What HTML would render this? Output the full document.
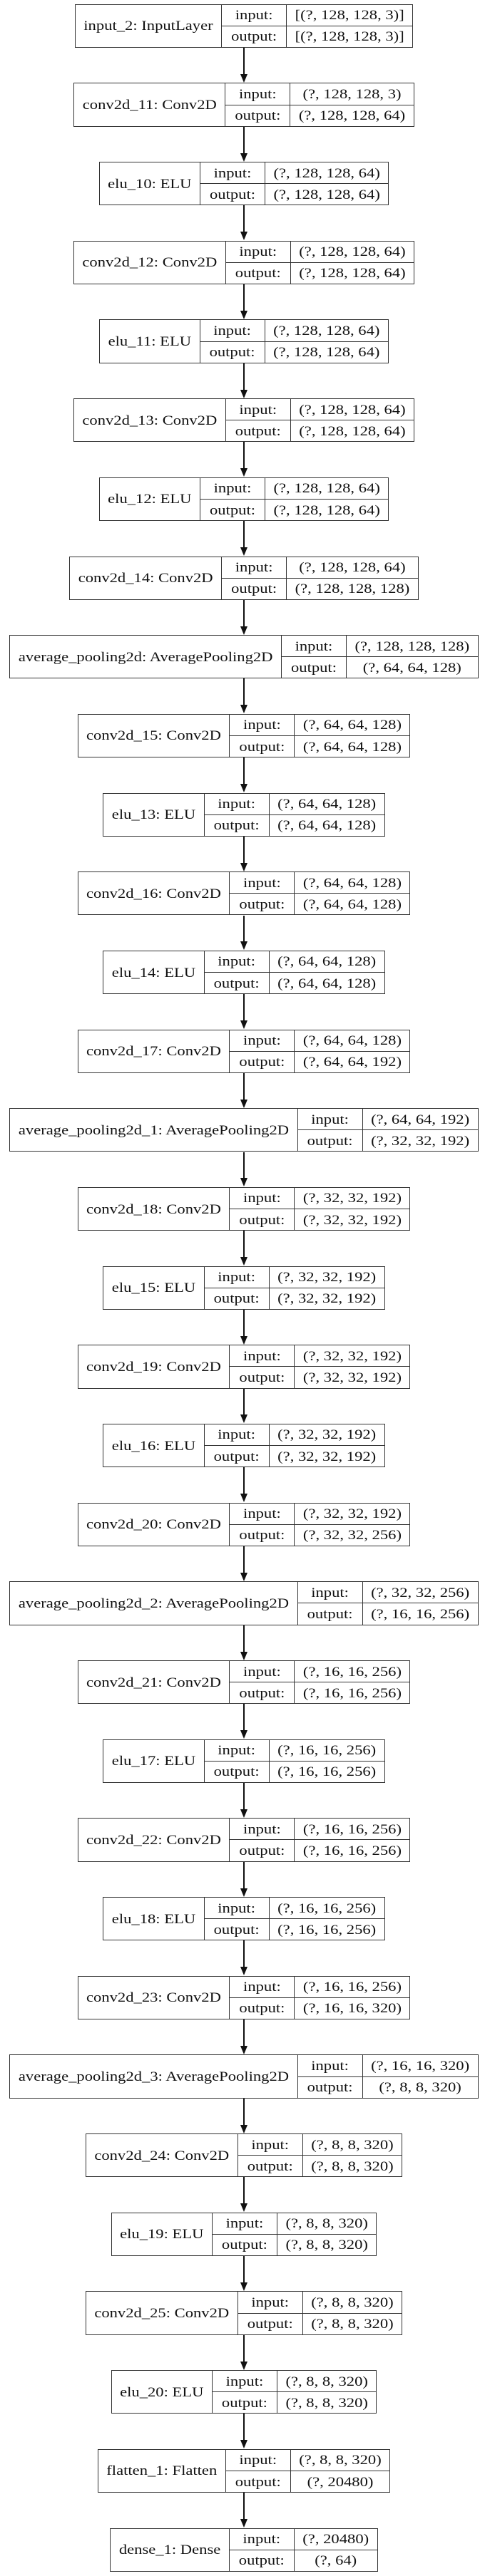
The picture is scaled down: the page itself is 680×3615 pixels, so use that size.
<!DOCTYPE html>
<html><head><meta charset="utf-8">
<style>
html,body{margin:0;padding:0;background:#fff;}
body{width:680px;height:3615px;position:relative;overflow:hidden;font-family:"Liberation Serif","DejaVu Serif",serif;font-size:22.6px;color:#111;}
.b{position:absolute;left:0;width:684px;display:flex;justify-content:center;}
.a::before{content:"";position:absolute;left:341.3px;top:-49.4px;width:1.5px;height:38px;background:#111;}
.a::after{content:"";position:absolute;left:336.5px;top:-12.5px;width:0;height:0;border-left:5.5px solid transparent;border-right:5.5px solid transparent;border-top:12.5px solid #111;}
.n{display:flex;border:1.4px solid #333;height:61.3px;box-sizing:border-box;background:#fff;white-space:nowrap;}
.nm{padding:0 11.5px;display:flex;align-items:center;border-right:1.3px solid #333;}
.c{width:90px;display:flex;flex-direction:column;border-right:1.3px solid #333;}
.s{display:flex;flex-direction:column;}
.c div,.s div{flex:1;display:flex;align-items:center;justify-content:center;padding:0 11.5px;}
.c div:first-child,.s div:first-child{border-bottom:1.3px solid #333;}
span{display:inline-block;transform:scaleY(.83);}
</style></head><body>
<div class="b" style="top:5.7px"><div class="n"><div class="nm"><span>input_2: InputLayer</span></div><div class="c"><div><span>input:</span></div><div><span>output:</span></div></div><div class="s"><div><span>[(?, 128, 128, 3)]</span></div><div><span>[(?, 128, 128, 3)]</span></div></div></div></div>
<div class="b a" style="top:116.4px"><div class="n"><div class="nm"><span>conv2d_11: Conv2D</span></div><div class="c"><div><span>input:</span></div><div><span>output:</span></div></div><div class="s"><div><span>(?, 128, 128, 3)</span></div><div><span>(?, 128, 128, 64)</span></div></div></div></div>
<div class="b a" style="top:227.1px"><div class="n"><div class="nm"><span>elu_10: ELU</span></div><div class="c"><div><span>input:</span></div><div><span>output:</span></div></div><div class="s"><div><span>(?, 128, 128, 64)</span></div><div><span>(?, 128, 128, 64)</span></div></div></div></div>
<div class="b a" style="top:337.7px"><div class="n"><div class="nm"><span>conv2d_12: Conv2D</span></div><div class="c"><div><span>input:</span></div><div><span>output:</span></div></div><div class="s"><div><span>(?, 128, 128, 64)</span></div><div><span>(?, 128, 128, 64)</span></div></div></div></div>
<div class="b a" style="top:448.4px"><div class="n"><div class="nm"><span>elu_11: ELU</span></div><div class="c"><div><span>input:</span></div><div><span>output:</span></div></div><div class="s"><div><span>(?, 128, 128, 64)</span></div><div><span>(?, 128, 128, 64)</span></div></div></div></div>
<div class="b a" style="top:559.1px"><div class="n"><div class="nm"><span>conv2d_13: Conv2D</span></div><div class="c"><div><span>input:</span></div><div><span>output:</span></div></div><div class="s"><div><span>(?, 128, 128, 64)</span></div><div><span>(?, 128, 128, 64)</span></div></div></div></div>
<div class="b a" style="top:669.8px"><div class="n"><div class="nm"><span>elu_12: ELU</span></div><div class="c"><div><span>input:</span></div><div><span>output:</span></div></div><div class="s"><div><span>(?, 128, 128, 64)</span></div><div><span>(?, 128, 128, 64)</span></div></div></div></div>
<div class="b a" style="top:780.5px"><div class="n"><div class="nm"><span>conv2d_14: Conv2D</span></div><div class="c"><div><span>input:</span></div><div><span>output:</span></div></div><div class="s"><div><span>(?, 128, 128, 64)</span></div><div><span>(?, 128, 128, 128)</span></div></div></div></div>
<div class="b a" style="top:891.1px"><div class="n"><div class="nm"><span>average_pooling2d: AveragePooling2D</span></div><div class="c"><div><span>input:</span></div><div><span>output:</span></div></div><div class="s"><div><span>(?, 128, 128, 128)</span></div><div><span>(?, 64, 64, 128)</span></div></div></div></div>
<div class="b a" style="top:1001.8px"><div class="n"><div class="nm"><span>conv2d_15: Conv2D</span></div><div class="c"><div><span>input:</span></div><div><span>output:</span></div></div><div class="s"><div><span>(?, 64, 64, 128)</span></div><div><span>(?, 64, 64, 128)</span></div></div></div></div>
<div class="b a" style="top:1112.5px"><div class="n"><div class="nm"><span>elu_13: ELU</span></div><div class="c"><div><span>input:</span></div><div><span>output:</span></div></div><div class="s"><div><span>(?, 64, 64, 128)</span></div><div><span>(?, 64, 64, 128)</span></div></div></div></div>
<div class="b a" style="top:1223.2px"><div class="n"><div class="nm"><span>conv2d_16: Conv2D</span></div><div class="c"><div><span>input:</span></div><div><span>output:</span></div></div><div class="s"><div><span>(?, 64, 64, 128)</span></div><div><span>(?, 64, 64, 128)</span></div></div></div></div>
<div class="b a" style="top:1333.9px"><div class="n"><div class="nm"><span>elu_14: ELU</span></div><div class="c"><div><span>input:</span></div><div><span>output:</span></div></div><div class="s"><div><span>(?, 64, 64, 128)</span></div><div><span>(?, 64, 64, 128)</span></div></div></div></div>
<div class="b a" style="top:1444.5px"><div class="n"><div class="nm"><span>conv2d_17: Conv2D</span></div><div class="c"><div><span>input:</span></div><div><span>output:</span></div></div><div class="s"><div><span>(?, 64, 64, 128)</span></div><div><span>(?, 64, 64, 192)</span></div></div></div></div>
<div class="b a" style="top:1555.2px"><div class="n"><div class="nm"><span>average_pooling2d_1: AveragePooling2D</span></div><div class="c"><div><span>input:</span></div><div><span>output:</span></div></div><div class="s"><div><span>(?, 64, 64, 192)</span></div><div><span>(?, 32, 32, 192)</span></div></div></div></div>
<div class="b a" style="top:1665.9px"><div class="n"><div class="nm"><span>conv2d_18: Conv2D</span></div><div class="c"><div><span>input:</span></div><div><span>output:</span></div></div><div class="s"><div><span>(?, 32, 32, 192)</span></div><div><span>(?, 32, 32, 192)</span></div></div></div></div>
<div class="b a" style="top:1776.6px"><div class="n"><div class="nm"><span>elu_15: ELU</span></div><div class="c"><div><span>input:</span></div><div><span>output:</span></div></div><div class="s"><div><span>(?, 32, 32, 192)</span></div><div><span>(?, 32, 32, 192)</span></div></div></div></div>
<div class="b a" style="top:1887.3px"><div class="n"><div class="nm"><span>conv2d_19: Conv2D</span></div><div class="c"><div><span>input:</span></div><div><span>output:</span></div></div><div class="s"><div><span>(?, 32, 32, 192)</span></div><div><span>(?, 32, 32, 192)</span></div></div></div></div>
<div class="b a" style="top:1997.9px"><div class="n"><div class="nm"><span>elu_16: ELU</span></div><div class="c"><div><span>input:</span></div><div><span>output:</span></div></div><div class="s"><div><span>(?, 32, 32, 192)</span></div><div><span>(?, 32, 32, 192)</span></div></div></div></div>
<div class="b a" style="top:2108.6px"><div class="n"><div class="nm"><span>conv2d_20: Conv2D</span></div><div class="c"><div><span>input:</span></div><div><span>output:</span></div></div><div class="s"><div><span>(?, 32, 32, 192)</span></div><div><span>(?, 32, 32, 256)</span></div></div></div></div>
<div class="b a" style="top:2219.3px"><div class="n"><div class="nm"><span>average_pooling2d_2: AveragePooling2D</span></div><div class="c"><div><span>input:</span></div><div><span>output:</span></div></div><div class="s"><div><span>(?, 32, 32, 256)</span></div><div><span>(?, 16, 16, 256)</span></div></div></div></div>
<div class="b a" style="top:2330.0px"><div class="n"><div class="nm"><span>conv2d_21: Conv2D</span></div><div class="c"><div><span>input:</span></div><div><span>output:</span></div></div><div class="s"><div><span>(?, 16, 16, 256)</span></div><div><span>(?, 16, 16, 256)</span></div></div></div></div>
<div class="b a" style="top:2440.7px"><div class="n"><div class="nm"><span>elu_17: ELU</span></div><div class="c"><div><span>input:</span></div><div><span>output:</span></div></div><div class="s"><div><span>(?, 16, 16, 256)</span></div><div><span>(?, 16, 16, 256)</span></div></div></div></div>
<div class="b a" style="top:2551.3px"><div class="n"><div class="nm"><span>conv2d_22: Conv2D</span></div><div class="c"><div><span>input:</span></div><div><span>output:</span></div></div><div class="s"><div><span>(?, 16, 16, 256)</span></div><div><span>(?, 16, 16, 256)</span></div></div></div></div>
<div class="b a" style="top:2662.0px"><div class="n"><div class="nm"><span>elu_18: ELU</span></div><div class="c"><div><span>input:</span></div><div><span>output:</span></div></div><div class="s"><div><span>(?, 16, 16, 256)</span></div><div><span>(?, 16, 16, 256)</span></div></div></div></div>
<div class="b a" style="top:2772.7px"><div class="n"><div class="nm"><span>conv2d_23: Conv2D</span></div><div class="c"><div><span>input:</span></div><div><span>output:</span></div></div><div class="s"><div><span>(?, 16, 16, 256)</span></div><div><span>(?, 16, 16, 320)</span></div></div></div></div>
<div class="b a" style="top:2883.4px"><div class="n"><div class="nm"><span>average_pooling2d_3: AveragePooling2D</span></div><div class="c"><div><span>input:</span></div><div><span>output:</span></div></div><div class="s"><div><span>(?, 16, 16, 320)</span></div><div><span>(?, 8, 8, 320)</span></div></div></div></div>
<div class="b a" style="top:2994.1px"><div class="n"><div class="nm"><span>conv2d_24: Conv2D</span></div><div class="c"><div><span>input:</span></div><div><span>output:</span></div></div><div class="s"><div><span>(?, 8, 8, 320)</span></div><div><span>(?, 8, 8, 320)</span></div></div></div></div>
<div class="b a" style="top:3104.7px"><div class="n"><div class="nm"><span>elu_19: ELU</span></div><div class="c"><div><span>input:</span></div><div><span>output:</span></div></div><div class="s"><div><span>(?, 8, 8, 320)</span></div><div><span>(?, 8, 8, 320)</span></div></div></div></div>
<div class="b a" style="top:3215.4px"><div class="n"><div class="nm"><span>conv2d_25: Conv2D</span></div><div class="c"><div><span>input:</span></div><div><span>output:</span></div></div><div class="s"><div><span>(?, 8, 8, 320)</span></div><div><span>(?, 8, 8, 320)</span></div></div></div></div>
<div class="b a" style="top:3326.1px"><div class="n"><div class="nm"><span>elu_20: ELU</span></div><div class="c"><div><span>input:</span></div><div><span>output:</span></div></div><div class="s"><div><span>(?, 8, 8, 320)</span></div><div><span>(?, 8, 8, 320)</span></div></div></div></div>
<div class="b a" style="top:3436.8px"><div class="n"><div class="nm"><span>flatten_1: Flatten</span></div><div class="c"><div><span>input:</span></div><div><span>output:</span></div></div><div class="s"><div><span>(?, 8, 8, 320)</span></div><div><span>(?, 20480)</span></div></div></div></div>
<div class="b a" style="top:3547.5px"><div class="n"><div class="nm"><span>dense_1: Dense</span></div><div class="c"><div><span>input:</span></div><div><span>output:</span></div></div><div class="s"><div><span>(?, 20480)</span></div><div><span>(?, 64)</span></div></div></div></div>
</body></html>
